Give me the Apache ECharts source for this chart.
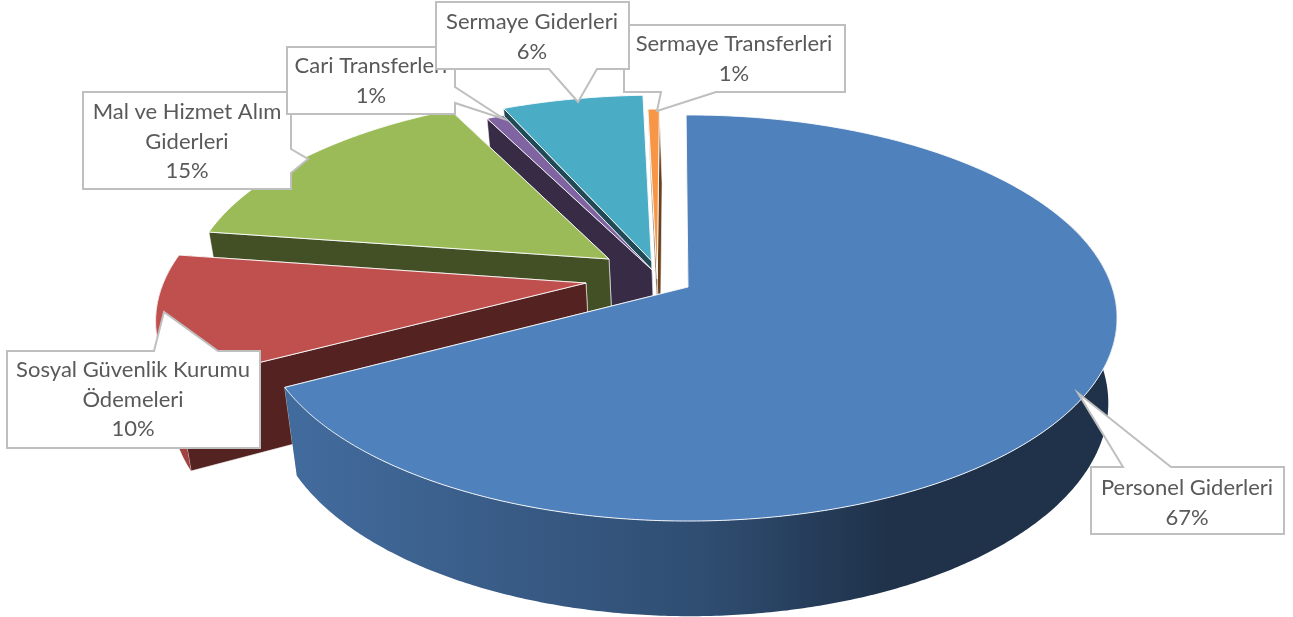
<!DOCTYPE html>
<html>
<head>
<meta charset="utf-8">
<style>html,body{margin:0;padding:0;background:#fff}#c{width:1293px;height:617px}</style>
<script src="https://cdn.jsdelivr.net/npm/echarts@6/dist/echarts.min.js"></script>
</head>
<body>
<div id="c"></div>
<script>
// DATA (shares of the budget, clockwise from 12 o'clock; labels show the rounded share)
const categories = ['Personel Giderleri','Sosyal Güvenlik Kurumu Ödemeleri','Mal ve Hizmet Alım Giderleri','Cari Transferler','Sermaye Giderleri','Sermaye Transferleri'];
const shares = [67.3, 10.1, 15.1, 0.75, 6.25, 0.5];
const labelLines = [['Personel Giderleri'],['Sosyal Güvenlik Kurumu','Ödemeleri'],['Mal ve Hizmet Alım','Giderleri'],['Cari Transferleri'],['Sermaye Giderleri'],['Sermaye Transferleri']];

// STYLE + 3D geometry
const colors = ['#4f81bd','#c0504d','#9bbb59','#8064a2','#4bacc6','#f79646'];
const paintOrder = [5,4,3,2,1,0];
const explode = [[0,0],[-.2413,.02],[-.1904,.1443],[-.0861,.088],[-.088,.135],[-.073,.04]];
const cam = {cx:688,cy:287,f:424,g:198.3,p:.1527,startDeg:-.3};
const base = {cx0:688,cy0:318,cx1:690,cy1:403,kx:.975,ky:1.05};
const wallRange = [70,275];   // part of the rim that faces the viewer

function topPt(x,y){const d=1+cam.p*y;return [cam.cx+cam.f*x/d,cam.cy-cam.g*y/d];}
function low(pt){return [base.cx1+(pt[0]-base.cx0)*base.kx,base.cy1+(pt[1]-base.cy0)*base.ky];}
function shade(hex,k){const n=parseInt(hex.slice(1),16);const c=[n>>16&255,n>>8&255,n&255].map(v=>Math.round(v*k));return 'rgb('+c.join(',')+')';}

const total = shares.reduce((a,b)=>a+b,0);
function renderItem(params,api){
  const i=params.dataIndex, v=api.value(0);
  let before=0; for(let k=0;k<i;k++) before+=shares[k];
  const a0=cam.startDeg+before/total*360, a1=a0+v/total*360;
  const off=explode[i], apex=topPt(off[0],off[1]);
  const rim=a=>{const t=a*Math.PI/180;return topPt(off[0]+Math.sin(t),off[1]+Math.cos(t));};
  const arcOf=(s,e)=>{const out=[],n=Math.max(4,Math.ceil((e-s)/.5));for(let k=0;k<=n;k++)out.push(rim(s+(e-s)*k/n));return out;};
  const arc=arcOf(a0,a1), z=paintOrder.indexOf(i)*10, col=colors[i], kids=[];
  const wallCol=shade(col,.43);
  const face=(p,q,o)=>({type:'polygon',z2:z+o,shape:{points:[p,q,low(q),low(p)]},
     style:{fill:wallCol,stroke:'rgba(255,255,255,.75)',lineWidth:.8}});
  kids.push(face(apex,arc[arc.length-1],1),face(apex,arc[0],2));
  const w0=Math.max(a0,wallRange[0]), w1=Math.min(a1,wallRange[1]);
  if(w1>w0){
    const wa=arcOf(w0,w1);
    kids.push({type:'polygon',z2:z+3,shape:{points:wa.concat(wa.map(low).reverse())},
      style:{fill:{type:'linear',x:296,y:0,x2:1117,y2:0,global:true,colorStops:[
        {offset:0,color:shade(col,.83)},{offset:.5,color:shade(col,.6)},{offset:.72,color:shade(col,.39)},{offset:1,color:shade(col,.39)}]}}});
  }
  kids.push({type:'polygon',z2:z+4,shape:{points:[apex].concat(arc)},
    style:{fill:col,stroke:'rgba(255,255,255,.9)',lineWidth:1,lineJoin:'round'}});
  return {type:'group',children:kids};
}

// callout outlines for the data labels
const callouts = [
 {i:2,cx:187,ty:112,pts:[[83,92],[291,92],[291,149],[308,159],[291,173],[291,189],[83,189]]},
 {i:3,cx:371,ty:66,pts:[[287,47],[455,47],[455,87],[504,119],[455,103],[455,114],[287,114]]},
 {i:5,cx:734,ty:44,pts:[[624,25],[845,25],[845,92],[716,92],[657,111],[661,92],[624,92]]},
 {i:4,cx:532,ty:22,pts:[[436,2],[629,2],[629,69],[597,69],[578,102],[549,69],[436,69]]},
 {i:1,cx:133,ty:370,pts:[[7,351],[154,351],[164,312],[218,351],[260,351],[260,448],[7,448]]},
 {i:0,cx:1187,ty:488,pts:[[1091,467],[1123,467],[1078,393],[1171,467],[1284,467],[1284,534],[1091,534]]}
];
const lh=29.5, font='Lato';
const graphic=[];
callouts.forEach((c,idx)=>{
  const z=100+idx*2;
  graphic.push({type:'polygon',z:z,shape:{points:c.pts},style:{fill:'#fff',stroke:'#bfbfbf',lineWidth:2}});
  const lines=labelLines[c.i].concat([Math.round(shares[c.i]/total*100)+'%']);
  lines.forEach((t,j)=>graphic.push({type:'text',z:z+1,x:c.cx,y:c.ty+j*lh,
    style:{text:t,align:'center',verticalAlign:'middle',fill:'#595959',font:'22px '+font}}));
});

const chart=echarts.init(document.getElementById('c'),null,{renderer:'canvas',width:1293,height:617});
chart.setOption({
  animation:false,backgroundColor:'#fff',
  series:[{type:'custom',coordinateSystem:'none',silent:true,clip:false,renderItem:renderItem,
    data:shares.map((v,i)=>({name:categories[i],value:[v]}))}],
  graphic:graphic
});
</script>
</body>
</html>
